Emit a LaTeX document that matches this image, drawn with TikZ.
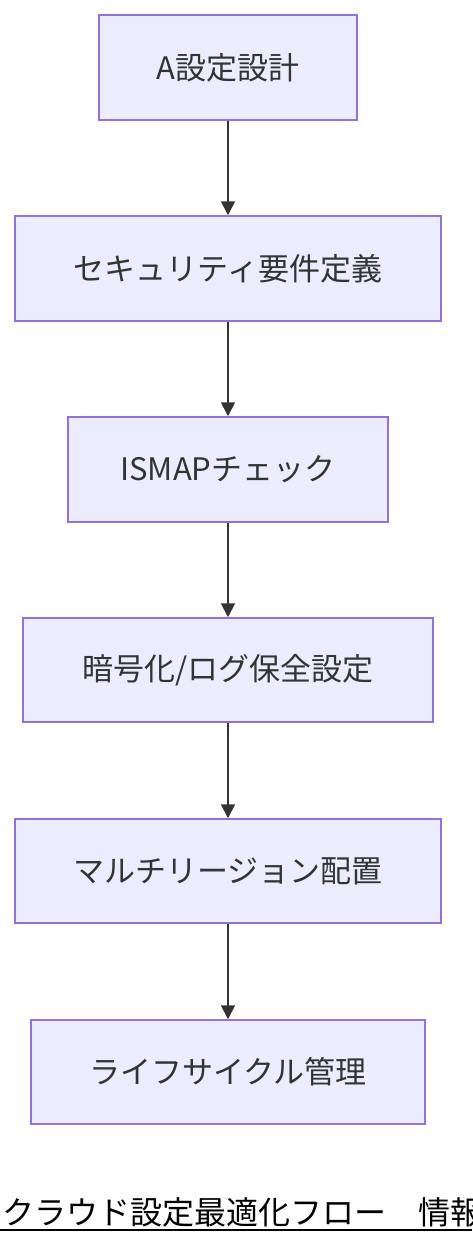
\documentclass[tikz,border=0pt]{standalone}
\usepackage{fontspec}
\setmainfont{Noto Sans CJK JP}
\usetikzlibrary{arrows.meta}
\definecolor{boxfill}{HTML}{ECECFF}
\definecolor{boxline}{HTML}{9370DB}
\definecolor{txt}{HTML}{333333}
\tikzset{
  stepbox/.style={draw=boxline, fill=boxfill, line width=1.5pt, text=txt, inner sep=0pt, font=\fontsize{31}{36}\selectfont},
  flow/.style={draw=txt, line width=1.8pt, -{Triangle[length=14pt,width=14pt]}}
}
\begin{document}
\begin{tikzpicture}[x=1pt,y=-1pt]
\useasboundingbox (0,0) rectangle (472,1244);
\node[stepbox, minimum width=258pt, minimum height=105pt] (n1) at (228,67.5) {A設定設計};
\node[stepbox, minimum width=426pt, minimum height=105pt] (n2) at (228,268.5) {セキュリティ要件定義};
\node[stepbox, minimum width=320pt, minimum height=105pt] (n3) at (228,469.5) {ISMAPチェック};
\node[stepbox, minimum width=410pt, minimum height=104pt] (n4) at (228,670) {暗号化/ログ保全設定};
\node[stepbox, minimum width=426pt, minimum height=104pt] (n5) at (228,871) {マルチリージョン配置};
\node[stepbox, minimum width=394pt, minimum height=104pt] (n6) at (228,1072) {ライフサイクル管理};
\draw[flow] (n1) -- (n2);
\draw[flow] (n2) -- (n3);
\draw[flow] (n3) -- (n4);
\draw[flow] (n4) -- (n5);
\draw[flow] (n5) -- (n6);
\node[anchor=base west, inner sep=0pt, font=\fontsize{32}{38}\selectfont] (cap) at (2,1224) {クラウド設定最適化フロー　情報};
\coordinate (ul) at (0,1230);
\coordinate (ur) at (472,1230);
\draw[line width=2pt] (ul) -- (ur);
\end{tikzpicture}
\end{document}
